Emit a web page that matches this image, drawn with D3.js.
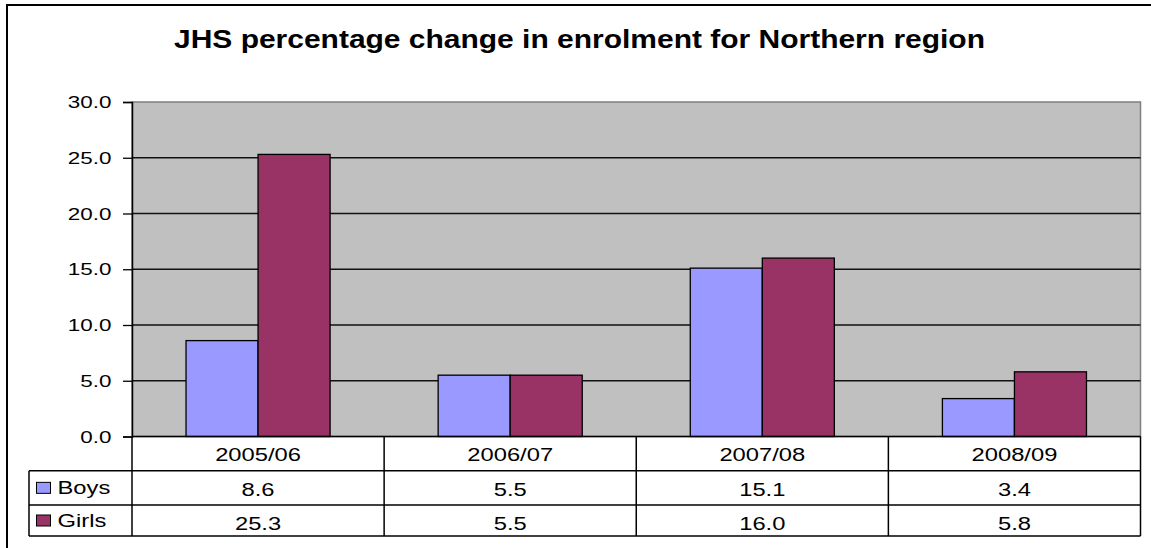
<!DOCTYPE html>
<html>
<head>
<meta charset="utf-8">
<script src="https://cdn.jsdelivr.net/npm/d3@7"></script>
<style>
  body { margin: 0; background: #fff; }
  text { font-family: "Liberation Sans", Arial, sans-serif; fill: #000; }
</style>
</head>
<body>
<script>
// JHS enrolment change, Northern region - bars with a data table under them

var categories = ["2005/06", "2006/07", "2007/08", "2008/09"]
var seriesNames = ["Boys", "Girls"]
var boys = [8.6, 5.5, 15.1, 3.4]
var girls = [25.3, 5.5, 16.0, 5.8]
var yTicks = [0, 5, 10, 15, 20, 25, 30]

var colors = {Boys: "#9999FF", Girls: "#993366"}
var series = [boys, girls]

var screen = {width: 1151, height: 548}
var plot = {left: 132, right: 1140.5, top: 102, bottom: 436.5}
var rows = [436.5, 470.7, 505, 536]   // table row lines
var sx = 1.32                          // the picture is stretched sideways

var svg = d3.select("body")
    .append("svg")
    .attr("width", screen.width)
    .attr("height", screen.height)

// helper: stretched text
var label = function(g, x, y, txt, anchor, size, weight)
{
    return g.append("text")
        .attr("transform", "translate(" + x + "," + y + ") scale(" + sx + ",1)")
        .attr("text-anchor", anchor)
        .style("font-size", size + "px")
        .style("font-weight", weight || "normal")
        .text(txt)
}

// outer frame
svg.append("rect")
    .attr("x", 7).attr("y", 5)
    .attr("width", 1146).attr("height", 560)
    .attr("fill", "none")
    .attr("stroke", "#000")
    .attr("stroke-width", 2)

svg.append("text")
    .attr("x", 579.5)
    .attr("y", 48)
    .attr("text-anchor", "middle")
    .attr("textLength", 811)
    .attr("lengthAdjust", "spacingAndGlyphs")
    .style("font-size", "25px")
    .style("font-weight", "bold")
    .text("JHS percentage change in enrolment for Northern region")

var xScale = d3.scaleBand()
    .domain(categories)
    .range([plot.left, plot.right])

var w = xScale.bandwidth() / 3.5
var inner = d3.scaleBand()
    .domain(seriesNames)
    .range([0.75 * w, 2.75 * w])

var yScale = d3.scaleLinear()
    .domain([0, 30])
    .range([plot.bottom, plot.top])

// plot area
svg.append("rect")
    .attr("x", plot.left).attr("y", plot.top)
    .attr("width", plot.right - plot.left)
    .attr("height", plot.bottom - plot.top)
    .attr("fill", "#C0C0C0")
    .attr("stroke", "#808080")
    .attr("stroke-width", 1.5)

svg.append("g")
    .selectAll("line")
    .data(yTicks.filter(function(d) { return d > 0 && d < 30 }))
    .enter()
    .append("line")
    .attr("x1", plot.left).attr("x2", plot.right)
    .attr("y1", function(d) { return yScale(d) })
    .attr("y2", function(d) { return yScale(d) })
    .attr("stroke", "#111")
    .attr("stroke-width", 1.5)

// bars
series.forEach(function(vals, si)
{
    svg.append("g")
        .selectAll("rect")
        .data(vals)
        .enter()
        .append("rect")
        .attr("x", function(d, i) { return xScale(categories[i]) + inner(seriesNames[si]) })
        .attr("width", inner.bandwidth())
        .attr("y", function(d) { return yScale(d) })
        .attr("height", function(d) { return yScale(0) - yScale(d) })
        .attr("fill", colors[seriesNames[si]])
        .attr("stroke", "#000")
        .attr("stroke-width", 1.3)
})

// y axis
var yAxis = d3.axisLeft(yScale)
    .tickValues(yTicks)
    .tickSize(9)
    .tickFormat(d3.format(".1f"))

var yG = svg.append("g")
    .attr("transform", "translate(" + plot.left + ",0)")
    .call(yAxis)

yG.select(".domain").attr("stroke", "#000").attr("stroke-width", 1.5)
yG.selectAll(".tick line").attr("stroke", "#000").attr("stroke-width", 1.3)
yG.selectAll(".tick text").remove()

yTicks.forEach(function(t)
{
    label(svg, 111.5, yScale(t) + 6, d3.format(".1f")(t), "end", 17)
})

// data table
var table = svg.append("g")
var line = function(x1, y1, x2, y2)
{
    table.append("line")
        .attr("x1", x1).attr("y1", y1)
        .attr("x2", x2).attr("y2", y2)
        .attr("stroke", "#000")
        .attr("stroke-width", 1.5)
}

line(plot.left, rows[0], plot.right, rows[0])
line(29, rows[1], plot.right, rows[1])
line(29, rows[2], plot.right, rows[2])
line(29, rows[3], plot.right, rows[3])
line(29, rows[1], 29, rows[3])
categories.forEach(function(c)
{
    line(xScale(c), rows[0], xScale(c), rows[3])
})
line(plot.right, rows[0], plot.right, rows[3])

categories.forEach(function(c, i)
{
    var cx = xScale(c) + xScale.bandwidth() / 2
    label(table, cx, 460.5, c, "middle", 18)
    label(table, cx, 496, d3.format(".1f")(boys[i]), "middle", 18)
    label(table, cx, 529.5, d3.format(".1f")(girls[i]), "middle", 18)
})

seriesNames.forEach(function(s, si)
{
    var mid = (rows[si + 1] + rows[si + 2]) / 2
    table.append("rect")
        .attr("x", 36.5).attr("y", mid - 5.5)
        .attr("width", 14).attr("height", 11)
        .attr("fill", colors[s])
        .attr("stroke", "#000")
        .attr("stroke-width", 1)
    label(table, 57.5, mid + 6.5, s, "start", 18)
})
</script>
</body>
</html>
